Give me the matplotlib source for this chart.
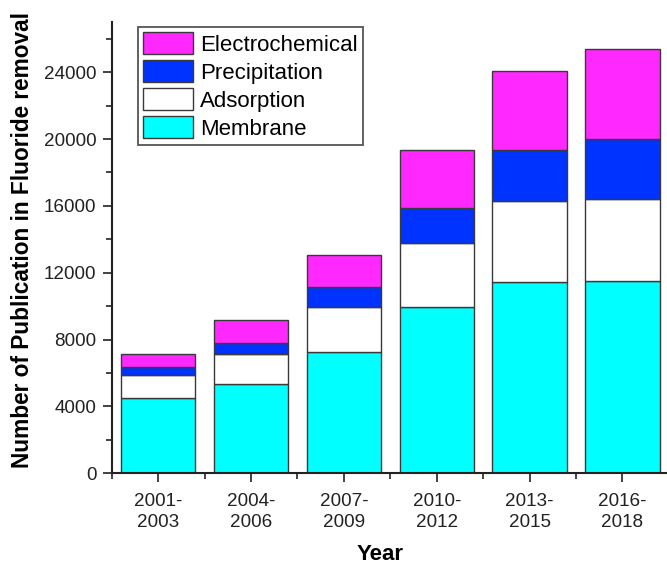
import numpy as np
import matplotlib
matplotlib.use('Agg')
import matplotlib.pyplot as plt
from matplotlib.ticker import MultipleLocator, FixedLocator

plt.rcParams['font.family'] = ['Liberation Sans', 'DejaVu Sans']

# data (publication counts per period)
periods = ['2001-\n2003', '2004-\n2006', '2007-\n2009', '2010-\n2012', '2013-\n2015', '2016-\n2018']
membrane = [4500, 5370, 7260, 9930, 11450, 11510]
adsorption = [1400, 1750, 2670, 3860, 4840, 4920]
precipitation = [480, 700, 1200, 2100, 3060, 3600]
electrochemical = [770, 1380, 1920, 3460, 4730, 5360]

series = [
    ('Membrane', membrane, '#00FFFF'),
    ('Adsorption', adsorption, '#FFFFFF'),
    ('Precipitation', precipitation, '#0033FF'),
    ('Electrochemical', electrochemical, '#FF28FF'),
]

W, H = 667, 566
fig = plt.figure(figsize=(W / 100, H / 100), dpi=100)
ax = fig.add_axes([111.7 / W, 1 - 473.3 / H, (W - 111.7) / W, (473.3 - 22) / H])

x = np.arange(len(periods))
bottom = np.zeros(len(periods))
handles = []
for name, vals, color in series:
    b = ax.bar(x, vals, width=0.8, bottom=bottom, color=color,
               edgecolor='#3a3a3a', linewidth=1.0, label=name)
    handles.append(b)
    bottom += np.array(vals)

ax.set_xlim(-0.5, 5.48)
ax.set_ylim(0, 27000)

ax.set_xticks(x)
ax.set_xticklabels(periods, fontsize=13.6, color='#222222', linespacing=1.3)
ax.xaxis.set_minor_locator(FixedLocator(np.arange(-0.5, 5.6, 1.0)))
ax.yaxis.set_major_locator(MultipleLocator(4000))
ax.yaxis.set_minor_locator(MultipleLocator(2000))
ax.tick_params(axis='y', labelsize=13.6, labelcolor='#222222')

for side in ['top', 'right']:
    ax.spines[side].set_visible(False)
for side in ['left', 'bottom']:
    ax.spines[side].set_linewidth(1.5)
    ax.spines[side].set_color('#222222')

ax.tick_params(which='major', direction='out', length=6.5, width=1.2, color='#222222')
ax.tick_params(which='minor', direction='out', length=4, width=1.2, color='#222222')
ax.tick_params(axis='x', which='major', pad=7.5)
ax.tick_params(axis='y', which='major', pad=4.5)

fig.text(23 / W, 1 - 240 / H, 'Number of Publication in Fluoride removal',
         rotation=90, ha='center', va='center', fontsize=16.3, fontweight='bold')
fig.text(380 / W, 1 / H, 'Year', ha='center', va='bottom',
         fontsize=16, fontweight='bold')

leg = ax.legend(handles[::-1], [s[0] for s in series][::-1],
                loc='upper left', bbox_to_anchor=(137.7 / W, 1 - 26.7 / H),
                bbox_transform=fig.transFigure, borderaxespad=0,
                fontsize=16, handlelength=2.25, handleheight=1.15,
                handletextpad=0.3, labelspacing=0.2, borderpad=0.25,
                fancybox=False, framealpha=1, edgecolor='#555555')
leg.get_frame().set_linewidth(1.3)

fig.savefig('out.png', dpi=100)
